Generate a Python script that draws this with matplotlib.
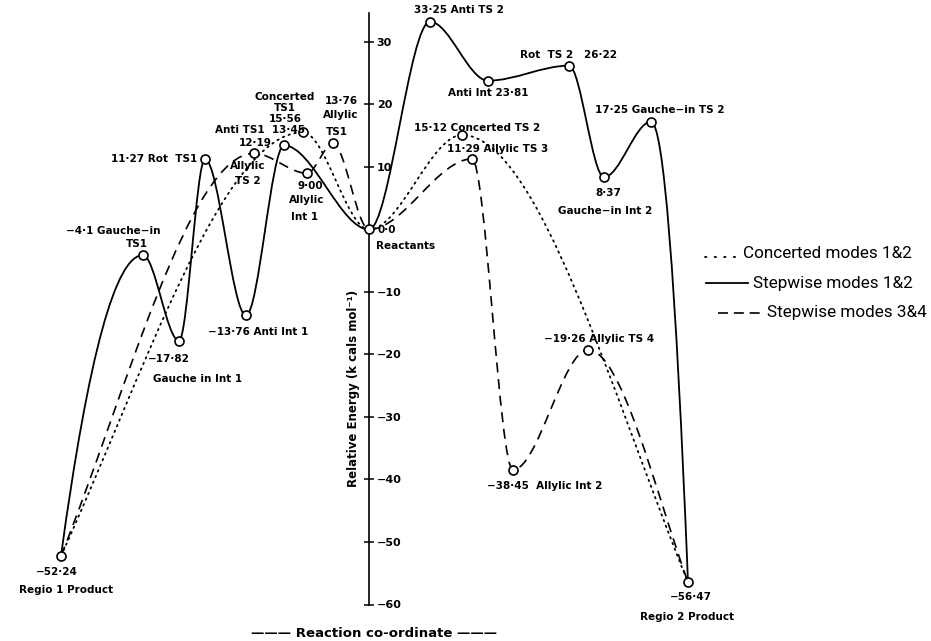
import numpy as np
import matplotlib
matplotlib.use("Agg")
import matplotlib.pyplot as plt
from matplotlib.path import Path
from matplotlib.patches import PathPatch

# States along the reaction co-ordinate, relative energies in kcal/mol
states = ["Regio 1 Product", "Gauche-in TS1", "Gauche in Int1", "Rot TS1", "Anti Int1",
          "Allylic TS2", "Anti TS1", "Concerted TS1", "Allylic Int1", "Allylic TS1",
          "Reactants", "Anti TS2", "Anti Int", "Rot TS2", "Gauche-in Int2",
          "Gauche-in TS2", "Regio 2 Product", "Concerted TS2", "Allylic TS3",
          "Allylic Int2", "Allylic TS4"]
coord = [-30.8, -22.6, -19.0, -16.4, -12.3, -11.5, -8.5, -6.6, -6.2, -3.6,
         0.0, 6.1, 11.9, 20.0, 23.5, 28.2, 31.9, 9.3, 10.3, 14.4, 21.9]
energy = [-52.24, -4.1, -17.82, 11.27, -13.76, 12.19, 13.45, 15.56, 9.00, 13.76,
          0.0, 33.25, 23.81, 26.22, 8.37, 17.25, -56.47, 15.12, 11.29, -38.45, -19.26]

# pathways through the states
concerted = ["Regio 1 Product", "Concerted TS1", "Reactants", "Concerted TS2",
             "Regio 2 Product"]
stepwise_12 = ["Regio 1 Product", "Gauche-in TS1", "Gauche in Int1", "Rot TS1",
               "Anti Int1", "Anti TS1", "Reactants", "Anti TS2", "Anti Int", "Rot TS2",
               "Gauche-in Int2", "Gauche-in TS2", "Regio 2 Product"]
stepwise_34 = ["Regio 1 Product", "Allylic TS2", "Allylic Int1", "Allylic TS1",
               "Reactants", "Allylic TS3", "Allylic Int2", "Allylic TS4",
               "Regio 2 Product"]

yticks = [30, 20, 10, -10, -20, -30, -40, -50, -60]
ytick_labels = ["30", "20", "10", "−10", "−20", "−30", "−40", "−50", "−60"]

# annotation text: (state, text, offset x px, offset y px (down), ha)
labels = [
    ("Regio 1 Product", "−52·24", -4, 16, "center"),
    ("Regio 1 Product", "Regio 1 Product", 5, 34, "center"),
    ("Gauche-in TS1", "−4·1 Gauche−in", -30, -24, "center"),
    ("Gauche-in TS1", "TS1", -6, -11, "center"),
    ("Gauche in Int1", "−17·82", -10, 18, "center"),
    ("Gauche in Int1", "Gauche in Int 1", 19, 38, "center"),
    ("Rot TS1", "11·27 Rot  TS1", -8, 0, "right"),
    ("Anti Int1", "−13·76 Anti Int 1", 12, 17, "center"),
    ("Allylic TS2", "12·19", 1, -10, "center"),
    ("Allylic TS2", "Allylic", -6, 13, "center"),
    ("Allylic TS2", "TS 2", -6, 28, "center"),
    ("Anti TS1", "Anti TS1  13·45", -24, -15, "center"),
    ("Concerted TS1", "Concerted\nTS1\n15·56", -18, -24, "center"),
    ("Allylic Int1", "9·00", 3, 13, "center"),
    ("Allylic Int1", "Allylic", 0, 27, "center"),
    ("Allylic Int1", "Int 1", -2, 44, "center"),
    ("Allylic TS1", "13·76", 8, -42, "center"),
    ("Allylic TS1", "Allylic", 8, -29, "center"),
    ("Allylic TS1", "TS1", 4, -11, "center"),
    ("Reactants", "0·0", 9, 1, "left"),
    ("Reactants", "Reactants", 37, 17, "center"),
    ("Anti TS2", "33·25 Anti TS 2", 29, -12, "center"),
    ("Anti Int", "Anti Int 23·81", 0, 12, "center"),
    ("Rot TS2", "Rot  TS 2   26·22", 0, -11, "center"),
    ("Gauche-in Int2", "8·37", 4, 16, "center"),
    ("Gauche-in Int2", "Gauche−in Int 2", 1, 34, "center"),
    ("Gauche-in TS2", "17·25 Gauche−in TS 2", 9, -12, "center"),
    ("Regio 2 Product", "−56·47", 3, 15, "center"),
    ("Regio 2 Product", "Regio 2 Product", -1, 35, "center"),
    ("Concerted TS2", "15·12 Concerted TS 2", 15, -7, "center"),
    ("Allylic TS3", "11·29 Allylic TS 3", 26, -10, "center"),
    ("Allylic Int2", "−38·45  Allylic Int 2", 32, 16, "center"),
    ("Allylic TS4", "−19·26 Allylic TS 4", 11, -11, "center"),
]

DPI = 100
pos = {s: (x, e) for s, x, e in zip(states, coord, energy)}


def profile_path(names, end_bend=1.0):
    # cubic segments, flat at every stationary point; end_bend scales the
    # slope into the two end points relative to the chord
    xs = np.array([pos[n][0] for n in names])
    ys = np.array([pos[n][1] for n in names])
    m = np.zeros(len(xs))
    m[0] = end_bend * (ys[1] - ys[0]) / (xs[1] - xs[0])
    m[-1] = end_bend * (ys[-1] - ys[-2]) / (xs[-1] - xs[-2])
    verts = [(xs[0], ys[0])]
    codes = [Path.MOVETO]
    for i in range(len(xs) - 1):
        h = (xs[i + 1] - xs[i]) / 3
        verts += [(xs[i] + h, ys[i] + m[i] * h),
                  (xs[i + 1] - h, ys[i + 1] - m[i + 1] * h),
                  (xs[i + 1], ys[i + 1])]
        codes += [Path.CURVE4] * 3
    return Path(verts, codes)


fig = plt.figure(figsize=(9.31, 6.41), dpi=DPI)
ax = fig.add_axes([0, 0, 1, 1])
ax.set_xlim(-36.9, 56.2)
ax.set_ylim(-65.84, 36.72)

ax.add_patch(PathPatch(profile_path(concerted, 1.25), fill=False, ec="black", lw=1.3,
                       ls=(0, (0.8, 2.6)), capstyle="round"))
ax.add_patch(PathPatch(profile_path(stepwise_12, 2.0), fill=False, ec="black", lw=1.3))
ax.add_patch(PathPatch(profile_path(stepwise_34, 1.2), fill=False, ec="black", lw=1.2,
                       ls=(0, (6, 4))))

ax.plot(coord, energy, ls="none", marker="o", ms=6.5, mfc="white", mec="black",
        mew=1.2, zorder=5)

for state, text, dx, dy, ha in labels:
    ax.annotate(text, pos[state], xytext=(dx * 72 / DPI, -dy * 72 / DPI),
                textcoords="offset points", ha=ha, va="center", fontsize=7.5,
                fontweight="bold", linespacing=1.15, zorder=6)

# energy axis through the reactants
for s in ["left", "top", "bottom"]:
    ax.spines[s].set_visible(False)
ax.spines["right"].set_position(("data", 0))
ax.spines["right"].set_bounds(-60, 34.7)
ax.spines["right"].set_linewidth(1.2)
ax.yaxis.tick_right()
ax.set_xticks([])
ax.set_yticks(yticks)
ax.set_yticklabels(ytick_labels)
ax.tick_params(axis="y", direction="inout", length=7, width=1.1, pad=2, labelsize=8)
for t in ax.get_yticklabels():
    t.set_fontweight("bold")

ax.text(-1.6, -25.4, "Relative Energy (k cals mol⁻¹)", rotation=90, ha="center",
        va="center", fontsize=8.5, fontweight="bold")
ax.text(0.5, -64.6, "——— Reaction co-ordinate ———", ha="center", va="center",
        fontsize=9.5, fontweight="bold")

# key
leg_font = ["Roboto", "DejaVu Sans"]
ax.plot([0.757, 0.792], [0.599, 0.599], transform=ax.transAxes, color="black",
        lw=1.3, ls=(0, (0.8, 4.5)), dash_capstyle="round")
ax.text(0.798, 0.605, "Concerted modes 1&2", transform=ax.transAxes, va="center",
        fontsize=12.3, family=leg_font)
ax.plot([0.758, 0.803], [0.558, 0.558], transform=ax.transAxes, color="black", lw=1.3)
ax.text(0.809, 0.558, "Stepwise modes 1&2", transform=ax.transAxes, va="center",
        fontsize=12.3, family=leg_font)
ax.plot([0.771, 0.816], [0.512, 0.512], transform=ax.transAxes, color="black",
        lw=1.2, ls=(0, (6, 3.5)))
ax.text(0.824, 0.512, "Stepwise modes 3&4", transform=ax.transAxes, va="center",
        fontsize=12.3, family=leg_font)

fig.savefig("out.png", dpi=DPI)
